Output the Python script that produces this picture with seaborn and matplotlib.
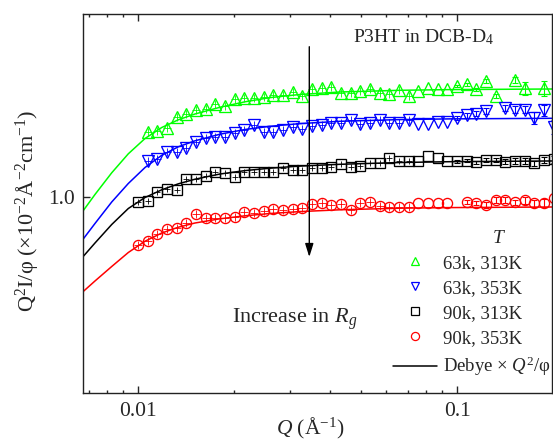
import numpy as np
import pandas as pd
import matplotlib
matplotlib.use("Agg")
import matplotlib.pyplot as plt
import seaborn as sns
from matplotlib.lines import Line2D
from matplotlib.ticker import FixedLocator, FixedFormatter, NullLocator, LogLocator, NullFormatter

nan = np.nan

# measured Q points (1/A), shared by all four samples
q = [0.010000, 0.010723, 0.011498, 0.012328, 0.013219, 0.014174, 0.015199, 0.016297,
     0.017475, 0.018738, 0.020091, 0.021544, 0.023101, 0.024771, 0.026561, 0.028480,
     0.030539, 0.032745, 0.035112, 0.037649, 0.040365, 0.043281, 0.046409, 0.049763,
     0.053358, 0.057214, 0.061348, 0.065781, 0.070535, 0.075632, 0.081096, 0.086957,
     0.093239, 0.099977, 0.10720, 0.11495, 0.12325, 0.13216, 0.14171, 0.15195,
     0.16293, 0.17470, 0.18732, 0.20086]

# Q^2 I / phi  (x10^-2 A^-2 cm^-1)
g_63k_313 = [nan, 2.138, 2.171, 2.258, 2.569, 2.642, 2.779, 2.812, 2.982, 2.929,
             3.162, 3.189, 3.211, 3.249, 3.315, 3.326, 3.445, 3.276, 3.544, 3.586,
             3.654, 3.413, 3.393, 3.494, 3.569, 3.401, 3.342, 3.515, 3.276, 3.494,
             3.586, 3.544, 3.544, 3.671, 3.750, 3.544, 3.907, 3.265, nan, 3.954,
             3.598, nan, 3.586, nan]
g_63k_353 = [nan, 1.526, 1.557, 1.691, 1.703, 1.784, 1.901, 2.007, 2.028, 2.031,
             2.113, 2.197, 2.329, 2.138, 2.154, 2.205, 2.284, 2.231, 2.295, 2.329,
             2.399, 2.399, 2.485, 2.357, 2.385, 2.480, 2.399, 2.385, 2.471, 2.344,
             2.357, 2.422, 2.408, 2.529, 2.605, 2.658, 2.740, nan, 2.852, 2.789,
             2.789, 2.529, 2.763, 2.284]
g_90k_313 = [0.946, 0.954, 1.057, 1.099, 1.090, 1.235, 1.235, 1.284, 1.349, 1.321,
             1.269, 1.337, 1.337, 1.346, 1.346, 1.401, 1.373, 1.373, 1.414, 1.414,
             1.428, 1.470, 1.423, 1.434, 1.485, 1.485, 1.576, 1.521, 1.526, 1.521,
             1.619, 1.585, 1.521, 1.518, 1.535, 1.500, 1.545, 1.550, 1.514, 1.526,
             1.526, 1.485, 1.545, 1.557]
g_90k_353 = [0.569, 0.598, 0.645, 0.687, 0.697, 0.739, 0.816, 0.784, 0.779, 0.779,
             0.794, 0.841, 0.826, 0.848, 0.872, 0.858, 0.867, 0.876, 0.923, 0.932,
             0.907, 0.919, 0.855, 0.932, 0.943, 0.897, 0.892, 0.892, 0.887, 0.932,
             0.932, 0.937, 0.929, nan, 0.946, 0.934, 0.912, 0.965, 0.965, 0.940,
             0.965, 0.927, 0.937, 0.988]

# error bars visible on the last 11 points (Q >= 0.1)
err_63k_313 = [0.05, 0.06, 0.05, 0.10, 0.08, nan, 0.12, 0.28, nan, 0.32, nan]
err_63k_353 = [0.06, 0.07, 0.08, 0.10, nan, 0.10, 0.12, 0.12, 0.17, 0.18, 0.20]
err_90k_313 = [0.03, 0.03, 0.03, 0.04, 0.04, 0.04, 0.05, 0.05, 0.05, 0.06, 0.06]
err_90k_353 = [nan, 0.02, 0.02, 0.03, 0.03, 0.03, 0.03, 0.04, 0.04, 0.045, 0.05]

# Debye fits x Q^2/phi
q_fit = [0.006723, 0.007330, 0.008272, 0.009324, 0.01052, 0.01187, 0.01338, 0.01509,
         0.01807, 0.02165, 0.02593, 0.03219, 0.04297, 0.06628, 0.09508, 0.1990]
fit_63k_313 = [0.8485, 1.0298, 1.3289, 1.6612, 1.9884, 2.2625, 2.4771, 2.6518,
               2.8694, 3.0602, 3.2149, 3.3343, 3.4333, 3.5028, 3.5318, 3.5563]
fit_63k_353 = [0.6084, 0.7325, 0.9430, 1.1720, 1.4143, 1.6323, 1.8036, 1.9351,
               2.0912, 2.2103, 2.2946, 2.3686, 2.4333, 2.4828, 2.5034, 2.5207]
fit_90k_313 = [0.4959, 0.5824, 0.7240, 0.8736, 0.9941, 1.0882, 1.1675, 1.2325,
               1.3100, 1.3636, 1.4026, 1.4380, 1.4684, 1.4997, 1.5140, 1.5268]
fit_90k_353 = [0.3287, 0.3728, 0.4420, 0.5210, 0.5949, 0.6550, 0.7013, 0.7368,
               0.7741, 0.8018, 0.8238, 0.8424, 0.8605, 0.8767, 0.8830, 0.8892]

labels = ["63k, 313K", "63k, 353K", "90k, 313K", "90k, 353K"]
colors = ["#00ff00", "#0000ff", "#000000", "#ff0000"]
markers = ["^", "v", "s", "o"]
msizes = [8.0, 8.0, 6.5, 7.3]

sns.set_style("ticks")
plt.rcParams["font.family"] = ["Liberation Serif", "DejaVu Serif"]
plt.rcParams["mathtext.fontset"] = "custom"
plt.rcParams["mathtext.rm"] = "Liberation Serif"
plt.rcParams["mathtext.it"] = "Liberation Serif:italic"

fig = plt.figure(figsize=(5.53, 4.43), dpi=100)
ax = fig.add_axes([83 / 553, 1 - 392.5 / 443, 469 / 553, 378.2 / 443])

series = [g_63k_313, g_63k_353, g_90k_313, g_90k_353]
fits = [fit_63k_313, fit_63k_353, fit_90k_313, fit_90k_353]
errs = [err_63k_313, err_63k_353, err_90k_313, err_90k_353]

for ys, fy, er, c, m, ms in zip(series, fits, errs, colors, markers, msizes):
    sns.lineplot(x=q_fit, y=fy, color=c, lw=1.1, ax=ax, errorbar=None)
    tail = pd.DataFrame({"Q": q[-len(er):], "I": ys[-len(er):], "e": er}).dropna()
    ax.errorbar(tail["Q"], tail["I"], yerr=tail["e"], fmt="none", ecolor=c,
                elinewidth=0.8, capsize=2.5, capthick=0.8, clip_on=False)
    df = pd.DataFrame({"Q": q, "I": ys}).dropna()
    sns.lineplot(data=df, x="Q", y="I", ax=ax, linestyle="", marker=m, ms=ms,
                 mfc="none", mec=c, mew=0.95, errorbar=None, clip_on=False)
    low = df[df["Q"] < 0.072]
    sns.lineplot(data=low, x="Q", y="I", ax=ax, linestyle="", marker="+",
                 ms=ms * 0.75, mec=c, mew=0.6, errorbar=None)

ax.set_xscale("log")
ax.set_yscale("log")
ax.set_xlim(0.006723, 0.19852)
ax.set_ylim(0.10059, 8.553)

ax.xaxis.set_major_locator(FixedLocator([0.01, 0.1]))
ax.xaxis.set_major_formatter(FixedFormatter(["0.01", "0.1"]))
ax.xaxis.set_minor_locator(LogLocator(base=10, subs=np.arange(2, 10) * 0.1, numticks=20))
ax.xaxis.set_minor_formatter(NullFormatter())
ax.yaxis.set_major_locator(FixedLocator([1.0]))
ax.yaxis.set_major_formatter(FixedFormatter(["1.0"]))
ax.yaxis.set_minor_locator(NullLocator())

ax.tick_params(axis="x", which="both", direction="in", top=True, bottom=True,
               labelsize=15.5, pad=7, width=1.0)
ax.tick_params(axis="x", which="major", length=5)
ax.tick_params(axis="x", which="minor", length=2.5)
ax.tick_params(axis="y", which="both", direction="in", left=True, right=False,
               labelsize=15.5, length=5, width=1.0, pad=6)
for sp in ax.spines.values():
    sp.set_linewidth(1.0)
    sp.set_color("#222222")
    sp.set_visible(True)

ax.set_xlabel("")
ax.set_ylabel("")
fig.text(310 / 553, 1 - 428 / 443, "$Q$ (Å$^{-1}$)", ha="center", va="center",
         fontsize=15.5)
fig.text(27 / 553, 1 - 211 / 443, "Q$^2$I/φ (×10$^{-2}$Å$^{-2}$cm$^{-1}$)",
         rotation=90, ha="center", va="center", fontsize=16)

ax.text(0.727, 0.940, "P3HT in DCB-D$_4$", transform=ax.transAxes,
        ha="center", va="center", fontsize=14)
ax.text(0.452, 0.195, "Increase in $R_g$", transform=ax.transAxes,
        ha="center", va="center", fontsize=16)
ax.annotate("", xy=(0.4825, 0.3583), xytext=(0.4825, 0.9143),
            xycoords="axes fraction", textcoords="axes fraction",
            arrowprops=dict(arrowstyle="-|>,head_length=0.8,head_width=0.25",
                            color="black", lw=1.0, shrinkA=0, shrinkB=0))

ax.text(0.885, 0.408, "T", transform=ax.transAxes, ha="center", va="center",
        fontsize=14, style="italic")

handles = [Line2D([], [], ls="", marker=m, ms=ms * 0.8, mfc="none", mec=c, mew=0.9)
           for m, c, ms in zip(markers, colors, msizes)]
handles.append(Line2D([], [], color="black", lw=1.1))
leg_labels = labels + ["Debye × $Q^2$/φ"]
ax.legend(handles, leg_labels, loc="upper left", bbox_to_anchor=(0.661, 0.364),
          frameon=False, fontsize=13.5, handlelength=2.35, handletextpad=0.3,
          labelspacing=0.42, borderpad=0, borderaxespad=0)

fig.savefig("out.png", dpi=100)
